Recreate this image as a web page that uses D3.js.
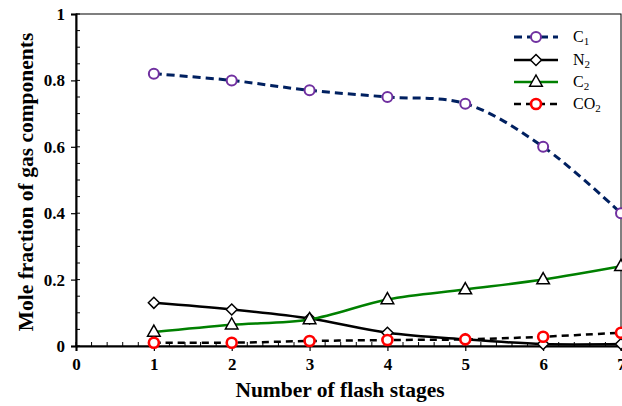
<!DOCTYPE html>
<html>
<head>
<meta charset="utf-8">
<script src="https://cdn.jsdelivr.net/npm/d3@7"></script>
<style>
  html, body { margin: 0; padding: 0; background: #fff; }
  svg { display: block; font-family: "Liberation Serif", "Times New Roman", serif; }
</style>
</head>
<body>
<div id="chart"></div>
<script>
const W = 622, H = 406;
const MARGIN = { top: 14, right: 1, bottom: 60, left: 76 };

// data
const stages = [1, 2, 3, 4, 5, 6, 7];
const c1 = [0.82, 0.80, 0.77, 0.75, 0.73, 0.60, 0.40];
const n2 = [0.13, 0.11, 0.083, 0.04, 0.02, 0.006, 0.006];
const c2 = [0.042, 0.064, 0.08, 0.14, 0.17, 0.20, 0.24];
const co2 = [0.01, 0.01, 0.015, 0.018, 0.02, 0.028, 0.04];
const xTicks = [0, 1, 2, 3, 4, 5, 6, 7];
const yTicks = [0, 0.2, 0.4, 0.6, 0.8, 1];

const series = [
  { name: 'C', sub: '1', values: c1, stroke: '#002060', width: 3, dash: '8,5', marker: 'circle', mStroke: '#7030a0', mWidth: 2 },
  { name: 'N', sub: '2', values: n2, stroke: '#000', width: 2.5, dash: null, marker: 'diamond', mStroke: '#000', mWidth: 1.5 },
  { name: 'C', sub: '2', values: c2, stroke: '#008000', width: 2.5, dash: null, marker: 'triangle', mStroke: '#000', mWidth: 1.5 },
  { name: 'CO', sub: '2', values: co2, stroke: '#000', width: 2.5, dash: '7,5', marker: 'circle', mStroke: '#ff0000', mWidth: 2.6 },
];

const svg = d3.select('#chart').append('svg')
  .attr('width', W).attr('height', H);

const x = d3.scaleLinear().domain([0, 7]).range([MARGIN.left, W - MARGIN.right]);
const y = d3.scaleLinear().domain([0, 1]).range([H - MARGIN.bottom, MARGIN.top]);

// frame
svg.append('rect')
  .attr('x', x(0)).attr('y', y(1))
  .attr('width', x(7) - x(0)).attr('height', y(0) - y(1))
  .attr('fill', 'none').attr('stroke', '#000').attr('stroke-width', 1);

// minor ticks (inside)
const yMinor = d3.range(0, 1.0001, 0.05);
svg.append('g').selectAll('line').data(yMinor).enter().append('line')
  .attr('x1', x(0)).attr('x2', x(0) + 4)
  .attr('y1', d => y(d)).attr('y2', d => y(d))
  .attr('stroke', '#000').attr('stroke-width', 1);
const xMinor = d3.range(0, 7.0001, 0.2);
svg.append('g').selectAll('line').data(xMinor).enter().append('line')
  .attr('x1', d => x(d)).attr('x2', d => x(d))
  .attr('y1', y(0)).attr('y2', y(0) - 4)
  .attr('stroke', '#000').attr('stroke-width', 1);

// axes
const yAxis = svg.append('g')
  .attr('transform', `translate(${x(0)},0)`)
  .call(d3.axisLeft(y).tickValues(yTicks).tickSize(5).tickPadding(6)
    .tickFormat(d => d === 0 || d === 1 ? String(d) : d.toFixed(1)));
const xAxis = svg.append('g')
  .attr('transform', `translate(0,${y(0)})`)
  .call(d3.axisBottom(x).tickValues(xTicks).tickSize(5).tickPadding(7).tickFormat(d3.format('d')));
[xAxis, yAxis].forEach(a => {
  a.select('.domain').attr('stroke', '#000').attr('stroke-width', 2);
  a.selectAll('.tick line').attr('stroke', '#000').attr('stroke-width', 1.2);
  a.selectAll('text').attr('fill', '#000')
    .style('font-family', '"Liberation Serif", serif')
    .style('font-size', '17px').style('font-weight', 'bold');
});

// axis titles
svg.append('text')
  .attr('x', 340).attr('y', 397)
  .attr('text-anchor', 'middle')
  .style('font-size', '21.5px').style('font-weight', 'bold')
  .text('Number of flash stages');
svg.append('text')
  .attr('transform', `translate(33,182) rotate(-90)`)
  .attr('text-anchor', 'middle')
  .style('font-size', '21.5px').style('font-weight', 'bold')
  .text('Mole fraction of gas components');

// markers
function drawMarker(g, s, cx, cy) {
  if (s.marker === 'circle') {
    g.append('circle').attr('cx', cx).attr('cy', cy).attr('r', 5)
      .attr('fill', '#fff').attr('stroke', s.mStroke).attr('stroke-width', s.mWidth);
  } else if (s.marker === 'diamond') {
    const r = 5.5;
    g.append('path')
      .attr('d', `M${cx},${cy - r}L${cx + r},${cy}L${cx},${cy + r}L${cx - r},${cy}Z`)
      .attr('fill', '#fff').attr('stroke', s.mStroke).attr('stroke-width', s.mWidth);
  } else {
    const r = 7;
    g.append('path')
      .attr('d', `M${cx},${cy - r}L${cx + r * 0.9},${cy + r * 0.6}L${cx - r * 0.9},${cy + r * 0.6}Z`)
      .attr('fill', '#fff').attr('stroke', s.mStroke).attr('stroke-width', s.mWidth);
  }
}

const line = d3.line().curve(d3.curveCatmullRom.alpha(0.5));

series.forEach(s => {
  const pts = stages.map((st, i) => [x(st), y(s.values[i])]);
  svg.append('path')
    .attr('d', line(pts))
    .attr('fill', 'none')
    .attr('stroke', s.stroke)
    .attr('stroke-width', s.width)
    .attr('stroke-dasharray', s.dash);
  const g = svg.append('g');
  pts.forEach(p => drawMarker(g, s, p[0], p[1]));
});

// legend
const legend = svg.append('g');
const legY = [37, 60, 82, 104];
series.forEach((s, i) => {
  const ly = legY[i];
  legend.append('line')
    .attr('x1', 514).attr('x2', 558).attr('y1', ly).attr('y2', ly)
    .attr('stroke', s.stroke).attr('stroke-width', s.width)
    .attr('stroke-dasharray', s.dash);
  drawMarker(legend, s, 536, ly);
  const t = legend.append('text')
    .attr('x', 573).attr('y', ly + 5)
    .style('font-size', '16px');
  t.append('tspan').text(s.name);
  t.append('tspan').attr('dy', 3).style('font-size', '11px').text(s.sub);
});
</script>
</body>
</html>
